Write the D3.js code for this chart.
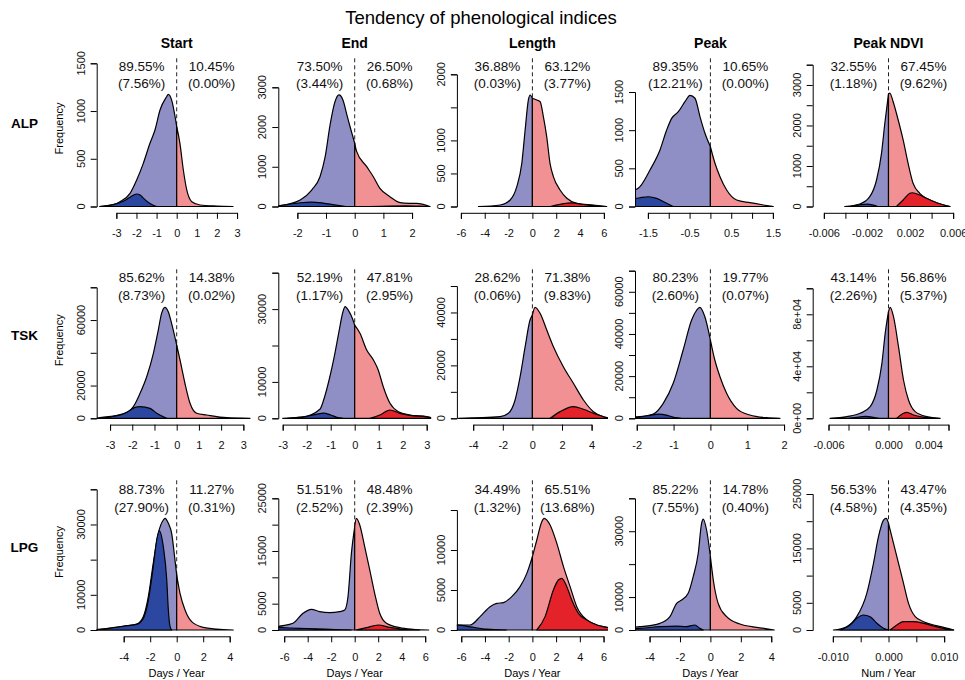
<!DOCTYPE html>
<html>
<head>
<meta charset="utf-8">
<script src="https://cdn.jsdelivr.net/npm/d3@7"></script>
<style>
	body { margin: 0; background: #fff; }
	text { font-family: 'Liberation Sans', Arial, sans-serif; }
</style>
</head>
<body>
<div id="draw"></div>
<script>
const rows = ['ALP', 'TSK', 'LPG'];
const cols = ['Start', 'End', 'Length', 'Peak', 'Peak NDVI'];

// share of negative / positive trends, and (significant share)
const negShare = [[89.55, 73.50, 36.88, 89.35, 32.55], [85.62, 52.19, 28.62, 80.23, 43.14], [88.73, 51.51, 34.49, 85.22, 56.53]];
const negSig = [[7.56, 3.44, 0.03, 12.21, 1.18], [8.73, 1.17, 0.06, 2.60, 2.26], [27.90, 2.52, 1.32, 7.55, 4.58]];
const posShare = [[10.45, 26.50, 63.12, 10.65, 67.45], [14.38, 47.81, 71.38, 19.77, 56.86], [11.27, 48.48, 65.51, 14.78, 43.47]];
const posSig = [[0.00, 0.68, 3.77, 0.00, 9.62], [0.02, 2.95, 9.83, 0.07, 5.37], [0.31, 2.39, 13.68, 0.40, 4.35]];

// density curves [trend, frequency]: all pixels / significant negative / significant positive
const alpStartAll = [[-3.82,0],[-3.15,20],[-2.82,50],[-2.32,138],[-1.99,278],[-1.66,452],[-1.33,662],[-1.08,801],[-0.83,1011],[-0.5,1150],[-0.42,1175],[-0.25,1115],[-0.08,940],[0,836],[0.16,662],[0.33,382],[0.5,173],[0.75,50],[1.16,16],[2.0,5],[2.8,0]];
const alpStartNeg = [[-3.82,0],[-3.15,20],[-2.66,55],[-2.3,100],[-2.0,131],[-1.8,118],[-1.66,87],[-1.33,31],[-1.0,0]];
const alpStartPos = [];
const alpEndAll = [[-2.84,0],[-2.3,60],[-1.9,164],[-1.5,415],[-1.21,750],[-1.03,1253],[-0.86,2050],[-0.69,2630],[-0.55,2807],[-0.41,2680],[-0.27,2300],[-0.13,1925],[0,1591],[0.07,1380],[0.42,1002],[0.65,750],[0.88,458],[1.23,247],[1.58,96],[1.9,80],[2.16,78],[2.62,0]];
const alpEndNeg = [[-2.84,0],[-2.3,55],[-1.9,95],[-1.5,110],[-1.1,85],[-0.7,40],[-0.3,0]];
const alpEndPos = [[0.5,0],[1.2,12],[1.8,15],[2.3,8],[2.62,0]];
const alpLengthAll = [[-4.53,0],[-2.7,23],[-1.87,98],[-1.31,300],[-0.89,653],[-0.61,1157],[-0.34,1611],[-0.19,1687],[0,1637],[0.37,1611],[0.65,1585],[0.92,1359],[1.2,1056],[1.48,653],[1.76,452],[2.32,250],[2.89,124],[3.72,48],[5.12,23],[6.24,0]];
const alpLengthNeg = [];
const alpLengthPos = [[1.5,0],[2.5,40],[3.3,55],[4.3,30],[5.5,5],[6.2,0]];
const alpPeakAll = [[-2.2,60],[-1.85,200],[-1.69,260],[-1.45,478],[-1.21,740],[-1.05,1002],[-0.93,1155],[-0.77,1242],[-0.61,1373],[-0.49,1457],[-0.37,1418],[-0.25,1177],[-0.13,959],[0,783],[0.11,566],[0.23,390],[0.39,216],[0.63,85],[0.95,50],[1.27,20],[1.51,0]];
const alpPeakNeg = [[-2.2,40],[-1.85,100],[-1.69,115],[-1.49,128],[-1.29,107],[-1.05,42],[-0.89,0]];
const alpPeakPos = [];
const alpNdviAll = [[-0.00406,0],[-0.00266,62],[-0.00174,242],[-0.00111,654],[-0.00065,1313],[-0.00034,2054],[0,2780],[0.00012,2800],[0.00043,2587],[0.0009,2135],[0.00136,1642],[0.00182,1066],[0.00228,573],[0.0029,326],[0.00352,202],[0.00445,94],[0.0057,0]];
const alpNdviNeg = [[-0.0035,0],[-0.0027,40],[-0.002,60],[-0.0014,35],[-0.001,0]];
const alpNdviPos = [[0.00074,0],[0.00136,160],[0.00198,326],[0.00222,340],[0.0029,284],[0.00352,202],[0.00445,94],[0.0057,0]];

const tskStartAll = [[-3.6,0],[-3.45,370],[-2.4,2600],[-1.95,7100],[-1.65,15270],[-1.35,25400],[-1.05,39700],[-0.83,53900],[-0.68,64100],[-0.53,67800],[-0.38,65100],[-0.23,58000],[0,44760],[0.15,35600],[0.37,21400],[0.6,9160],[0.9,3050],[1.35,2000],[2.25,370],[3.3,0]];
const tskStartNeg = [[-3.6,0],[-3.0,800],[-2.25,3600],[-1.9,6500],[-1.65,7100],[-1.2,6100],[-0.9,3050],[-0.45,0]];
const tskStartPos = [];
const tskEndAll = [[-3.0,0],[-2.2,300],[-1.45,2500],[-1.25,6000],[-1.05,11000],[-0.85,17000],[-0.65,24000],[-0.5,29000],[-0.4,30700],[-0.25,29500],[-0.1,27500],[0,25600],[0.22,23350],[0.5,18760],[0.78,16000],[0.98,13270],[1.19,8680],[1.47,4120],[1.82,1810],[2.3,900],[3.0,440],[3.3,0]];
const tskEndNeg = [[-2.8,0],[-2.2,300],[-1.6,1100],[-1.3,1400],[-1.0,900],[-0.7,200],[-0.5,0]];
const tskEndPos = [[0.64,0],[1.05,900],[1.47,2280],[1.88,1370],[2.3,800],[3.0,400],[3.3,0]];
const tskLengthAll = [[-5.0,0],[-2.18,600],[-1.62,1890],[-1.17,6920],[-0.83,15720],[-0.49,27060],[-0.16,37150],[0,39040],[0.18,41950],[0.52,39680],[0.97,33370],[1.42,27060],[2.09,19500],[2.77,13230],[3.45,6920],[4.12,2500],[4.8,600],[5.25,0]];
const tskLengthNeg = [];
const tskLengthPos = [[1.2,0],[1.88,2520],[2.77,4400],[3.45,3400],[4.12,1890],[4.8,600],[5.25,0]];
const tskPeakAll = [[-2.1,600],[-1.92,760],[-1.55,2040],[-1.28,7110],[-1.01,16600],[-0.74,32390],[-0.51,46620],[-0.37,51360],[-0.29,52640],[-0.15,48180],[0,37130],[0.12,27650],[0.26,19730],[0.44,11860],[0.71,4740],[1.07,1560],[1.53,290],[1.89,0]];
const tskPeakNeg = [[-2.1,200],[-1.7,1200],[-1.4,2000],[-1.15,1300],[-0.95,300],[-0.8,0]];
const tskPeakPos = [];
const tskNdviAll = [[-0.00585,0],[-0.00416,1280],[-0.00283,3850],[-0.00183,8970],[-0.00116,21770],[-0.00066,42300],[-0.00033,65380],[0,82000],[0.00017,85380],[0.0005,78150],[0.001,55080],[0.0015,29460],[0.002,14080],[0.00267,5130],[0.00384,1280],[0.00517,0]];
const tskNdviNeg = [[-0.004,0],[-0.003,1000],[-0.0023,1500],[-0.0015,800],[-0.001,0]];
const tskNdviPos = [[0.00083,0],[0.0015,3850],[0.00183,4600],[0.0025,2540],[0.0035,900],[0.0045,0]];

const lpgStartAll = [[-6.2,100],[-5.79,200],[-4.78,650],[-3.77,1230],[-3.02,1700],[-2.52,3790],[-2.14,9480],[-1.77,18960],[-1.39,27490],[-1.01,31270],[-0.88,31750],[-0.63,30330],[-0.38,27490],[-0.13,19900],[0,15640],[0.25,10430],[0.63,5690],[1.13,2370],[2.0,760],[3.02,280],[4.27,0]];
const lpgStartNeg = [[-6.2,100],[-5.79,200],[-4.78,650],[-3.77,1230],[-3.02,1600],[-2.52,3300],[-2.14,8500],[-1.77,18000],[-1.51,25590],[-1.31,28200],[-1.01,23680],[-0.75,14210],[-0.63,5690],[-0.5,950],[-0.38,0]];
const lpgStartPos = [];
const lpgEndAll = [[-6.7,500],[-6.53,630],[-5.25,1270],[-4.4,3170],[-3.69,3930],[-2.98,3480],[-2.13,3290],[-1.28,3480],[-0.85,3800],[-0.57,6330],[-0.28,14560],[0,19600],[0.14,21200],[0.43,19930],[0.85,15810],[1.28,11390],[1.7,6960],[2.13,3170],[2.7,1270],[3.83,440],[4.96,130],[6.3,0]];
const lpgEndNeg = [[-6.7,500],[-6.53,480],[-5.5,380],[-4,280],[-2.5,150],[-1,50],[-0.3,0]];
const lpgEndPos = [[0.15,0],[1.0,450],[2.0,950],[3.0,500],[4.1,130],[5.5,0]];
const lpgLengthAll = [[-6.5,600],[-6.24,625],[-5.25,625],[-4.41,1670],[-3.57,2920],[-3.0,3330],[-2.45,3420],[-1.74,4170],[-1.04,5420],[-0.47,7080],[0,9170],[0.37,11250],[0.79,13540],[0.99,13960],[1.49,13130],[2.06,10830],[2.62,7920],[3.18,5420],[3.74,2920],[4.59,1250],[5.43,625],[6.27,330],[6.6,200]];
const lpgLengthNeg = [[-6.5,600],[-6.24,600],[-5.25,400],[-3.85,100],[-2.2,0]];
const lpgLengthPos = [[0.37,0],[1.07,1670],[1.77,5000],[2.19,6250],[2.48,6460],[2.9,5420],[3.32,3750],[3.88,2080],[4.59,1250],[5.43,625],[6.27,330],[6.6,200]];
const lpgPeakAll = [[-5.1,800],[-4.64,1000],[-3.32,2030],[-2.66,4050],[-2.22,8100],[-1.89,9110],[-1.46,11130],[-1.13,16200],[-0.8,23300],[-0.58,32400],[-0.47,33700],[-0.25,30370],[0,22270],[0.19,15190],[0.51,8100],[1.07,4050],[1.94,1820],[3.04,820],[3.91,200],[4.2,0]];
const lpgPeakNeg = [[-5.1,400],[-4.64,500],[-3.32,1000],[-2.22,1200],[-1.6,1000],[-1.02,1520],[-0.69,500],[-0.47,0]];
const lpgPeakPos = [];
const lpgNdviAll = [[-0.0099,0],[-0.0075,610],[-0.0057,2450],[-0.0039,6740],[-0.0027,12260],[-0.0018,17150],[-0.0009,20220],[-0.00041,20530],[0,19610],[0.0009,15940],[0.0018,12260],[0.0027,8580],[0.0036,4900],[0.0048,2450],[0.0063,1530],[0.0081,920],[0.0099,490],[0.0117,0]];
const lpgNdviNeg = [[-0.0087,0],[-0.0069,920],[-0.0057,2140],[-0.0045,2760],[-0.0033,2450],[-0.0021,1230],[-0.0009,310],[0,0]];
const lpgNdviPos = [[0.0003,0],[0.0015,920],[0.0027,1530],[0.0045,1530],[0.0063,1230],[0.0081,740],[0.0099,300],[0.0117,0]];

// tick values and labels ('' = tick without label)
const xTicks = [
	[[-3,-2,-1,0,1,2,3], [-2,-1,0,1,2], [-6,-4,-2,0,2,4,6], [-1.5,-1,-0.5,0,0.5,1,1.5], [-0.006,-0.004,-0.002,0,0.002,0.004,0.006]],
	[[-3,-2,-1,0,1,2,3], [-3,-2,-1,0,1,2,3], [-4,-2,0,2,4], [-2,-1,0,1,2], [-0.006,-0.004,-0.002,0,0.002,0.004,0.006]],
	[[-4,-2,0,2,4], [-6,-4,-2,0,2,4,6], [-6,-4,-2,0,2,4,6], [-4,-2,0,2,4], [-0.01,-0.005,0,0.005,0.01]]
];
const xLabels = [
	[['-3','-2','-1','0','1','2','3'], ['-2','-1','0','1','2'], ['-6','-4','-2','0','2','4','6'], ['-1.5','','-0.5','','0.5','','1.5'], ['-0.006','','-0.002','','0.002','','0.006']],
	[['-3','-2','-1','0','1','2','3'], ['-3','-2','-1','0','1','2','3'], ['-4','-2','0','2','4'], ['-2','-1','0','1','2'], ['-0.006','','','0.000','','0.004','']],
	[['-4','-2','0','2','4'], ['-6','-4','-2','0','2','4','6'], ['-6','-4','-2','0','2','4','6'], ['-4','-2','0','2','4'], ['-0.010','','0.000','','0.010']]
];
const yTicks = [
	[[0,500,1000,1500], [0,1000,2000,3000], [0,500,1000,1500,2000], [0,500,1000,1500], [0,500,1000,1500,2000,2500,3000,3500]],
	[[0,20000,40000,60000,80000], [0,10000,20000,30000,40000], [0,10000,20000,30000,40000,50000], [0,10000,20000,30000,40000,50000,60000,70000], [0,20000,40000,60000,80000,100000]],
	[[0,10000,20000,30000,40000], [0,5000,10000,15000,20000,25000], [0,5000,10000,15000], [0,10000,20000,30000,40000], [0,5000,10000,15000,20000,25000]]
];
const yLabels = [
	[['0','500','1000','1500'], ['0','1000','2000','3000'], ['0','500','1000','','2000'], ['0','500','1000','1500'], ['0','','1000','','2000','','3000','']],
	[['0','20000','','60000',''], ['0','10000','','30000',''], ['0','','20000','','40000',''], ['0','','20000','','40000','','60000',''], ['0e+00','','4e+04','','8e+04','']],
	[['0','10000','','30000',''], ['0','5000','','15000','','25000'], ['0','5000','10000',''], ['0','10000','','30000',''], ['0','5000','','15000','','25000']]
];

const curves = [
	[[alpStartAll, alpStartNeg, alpStartPos], [alpEndAll, alpEndNeg, alpEndPos], [alpLengthAll, alpLengthNeg, alpLengthPos], [alpPeakAll, alpPeakNeg, alpPeakPos], [alpNdviAll, alpNdviNeg, alpNdviPos]],
	[[tskStartAll, tskStartNeg, tskStartPos], [tskEndAll, tskEndNeg, tskEndPos], [tskLengthAll, tskLengthNeg, tskLengthPos], [tskPeakAll, tskPeakNeg, tskPeakPos], [tskNdviAll, tskNdviNeg, tskNdviPos]],
	[[lpgStartAll, lpgStartNeg, lpgStartPos], [lpgEndAll, lpgEndNeg, lpgEndPos], [lpgLengthAll, lpgLengthNeg, lpgLengthPos], [lpgPeakAll, lpgPeakNeg, lpgPeakPos], [lpgNdviAll, lpgNdviNeg, lpgNdviPos]]
];

// layout (pixels)
const colCenter = [176.7, 354.7, 532.4, 710.4, 888.5];
const yAxisX = [96.7, 278.3, 456.9, 635, 812.7];
const rowBase = [206.5, 418.3, 630];
const rowStep = 211.75;
const xHalf = [[60.35, 57.35, 71.5, 62.5, 64.65], [66.65, 72, 59.2, 73.65, 60], [53, 70.5, 71.15, 60.85, 55.65]];
const yTopPx = [[63.3, 87.3, 74.3, 92, 64.7], [287.3, 272.7, 286, 270.7, 288.3], [489.3, 498.3, 510, 498.3, 494]];

const lightBlue = '#8f8fc6', darkBlue = '#2c479f', lightRed = '#f29194', red = '#e4222a';
const font = "'Liberation Sans', Arial, sans-serif";

var svg = d3
	.select('#draw')
	.append('svg')
	.attr('width', 965)
	.attr('height', 680);

svg
	.append('text')
	.attr('x', 481)
	.attr('y', 24)
	.attr('text-anchor', 'middle')
	.style('font-size', '18.5px')
	.text('Tendency of phenological indices');

const fmt = (v) => v.toFixed(2) + '%';

rows.forEach(function (rowName, r) {
	var dy = r * rowStep;
	var base = rowBase[r];

	svg
		.append('text')
		.attr('x', 24.5)
		.attr('y', 123.3 + dy)
		.attr('dy', '0.35em')
		.attr('text-anchor', 'middle')
		.style('font-size', '13.5px')
		.style('font-weight', 'bold')
		.text(rowName);

	svg
		.append('text')
		.attr('transform', 'translate(59.3,' + (128.5 + dy) + ') rotate(-90)')
		.attr('dy', '0.35em')
		.attr('text-anchor', 'middle')
		.style('font-size', '11px')
		.text('Frequency');

	cols.forEach(function (colName, c) {
		var cx = colCenter[c];
		var ax = yAxisX[c];
		var xt = xTicks[r][c], yt = yTicks[r][c];
		var xm = d3.max(xt);

		var x = d3.scaleLinear().domain([-xm, xm]).range([cx - xHalf[r][c], cx + xHalf[r][c]]);
		var y = d3.scaleLinear().domain([0, d3.max(yt)]).range([base, yTopPx[r][c]]);

		var clipId = 'clip-' + r + '-' + c;
		svg
			.append('clipPath')
			.attr('id', clipId)
			.append('rect')
			.attr('x', ax)
			.attr('y', base - 200)
			.attr('width', 2 * (cx - ax))
			.attr('height', 201.2);

		if (r === 0) {
			svg
				.append('text')
				.attr('x', cx)
				.attr('y', 48.3)
				.attr('text-anchor', 'middle')
				.style('font-size', '14px')
				.style('font-weight', 'bold')
				.text(colName);
		}

		// zero line
		svg
			.append('line')
			.attr('x1', x(0))
			.attr('x2', x(0))
			.attr('y1', 58.3 + r * 211)
			.attr('y2', base)
			.attr('stroke', '#222')
			.attr('stroke-width', 1)
			.attr('stroke-dasharray', '4,3');

		var area = d3
			.area()
			.x(function (d) { return x(d[0]); })
			.y0(y(0))
			.y1(function (d) { return y(d[1]); })
			.curve(d3.curveMonotoneX);

		var g = svg.append('g').attr('clip-path', 'url(#' + clipId + ')');
		var all = curves[r][c][0];
		var parts = [
			[all.filter(function (d) { return d[0] <= 0; }), lightBlue],
			[all.filter(function (d) { return d[0] >= 0; }), lightRed],
			[curves[r][c][1], darkBlue],
			[curves[r][c][2], red],
		];
		parts.forEach(function (p) {
			if (!p[0].length) return;
			g.append('path')
				.datum(p[0])
				.attr('d', area)
				.attr('fill', p[1])
				.attr('stroke', '#000')
				.attr('stroke-width', 1.2)
				.attr('stroke-linejoin', 'round');
		});

		// percentages
		[[negShare[r][c], negSig[r][c], -35], [posShare[r][c], posSig[r][c], 35]].forEach(function (t) {
			svg
				.append('text')
				.attr('x', x(0) + t[2])
				.attr('y', 66 + dy)
				.attr('dy', '0.35em')
				.attr('text-anchor', 'middle')
				.style('font-size', '13.5px')
				.style('fill', '#111')
				.text(fmt(t[0]));
			svg
				.append('text')
				.attr('x', x(0) + t[2])
				.attr('y', 83.3 + dy)
				.attr('dy', '0.35em')
				.attr('text-anchor', 'middle')
				.style('font-size', '13.5px')
				.style('fill', '#111')
				.text('(' + fmt(t[1]) + ')');
		});

		// x axis
		var xa = svg
			.append('g')
			.attr('transform', 'translate(0,' + (base + 6.3) + ')')
			.call(
				d3
					.axisBottom(x)
					.tickValues(xt)
					.tickFormat(function (d, i) { return xLabels[r][c][i]; })
					.tickSize(6)
					.tickPadding(10.5)
			);
		xa.attr('font-family', font).attr('font-size', 11);
		xa.selectAll('text').attr('fill', '#111');

		// y axis
		svg
			.append('g')
			.attr('transform', 'translate(' + ax + ',0)')
			.call(d3.axisLeft(y).tickValues(yt).tickFormat('').tickSize(6));

		yt.forEach(function (v, i) {
			if (!yLabels[r][c][i]) return;
			svg
				.append('text')
				.attr('transform', 'translate(' + (ax - 15.7) + ',' + y(v) + ') rotate(-90)')
				.attr('dy', '0.35em')
				.attr('text-anchor', 'middle')
				.style('font-size', '11px')
				.style('fill', '#111')
				.text(yLabels[r][c][i]);
		});

		if (r === rows.length - 1) {
			svg
				.append('text')
				.attr('x', x(0))
				.attr('y', 673.3)
				.attr('dy', '0.35em')
				.attr('text-anchor', 'middle')
				.style('font-size', '11px')
				.text(c === 4 ? 'Num / Year' : 'Days / Year');
		}
	});
});
</script>
</body>
</html>
